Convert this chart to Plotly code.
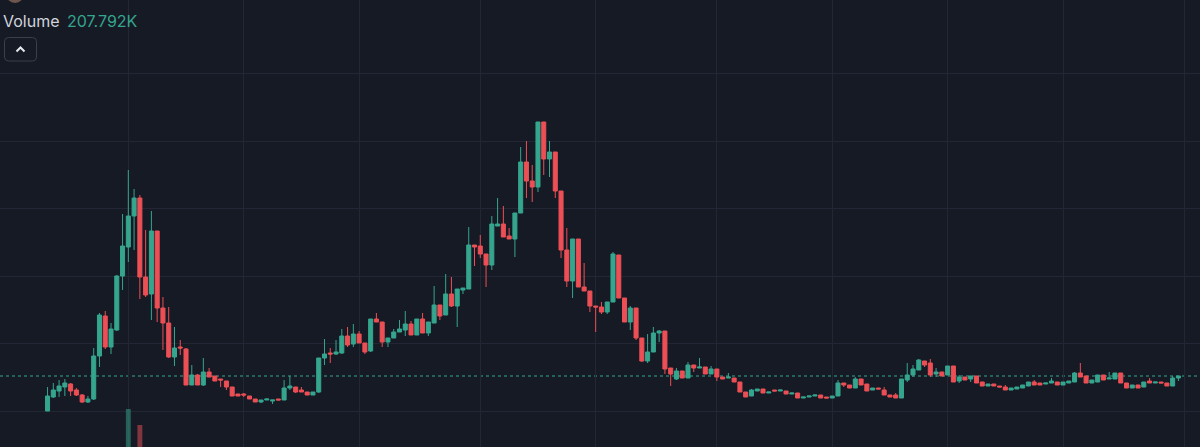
import plotly.graph_objects as go

# ---- data (price in chart units) ----
open_ = [68, 82, 88, 92, 95, 89, 84, 77, 80, 123, 163, 132, 149, 203, 232, 263, 281, 202, 185, 248,
         171, 156, 122, 132, 130, 94, 104, 94, 107, 103, 100, 98, 92, 85, 85, 83, 80, 77, 79, 78,
         80, 79, 91, 92, 89, 87, 84, 87, 121, 126, 125, 126, 143, 135, 145, 136, 128, 160, 157, 137,
         141, 147, 149, 155, 144, 160, 146, 156, 174, 164, 185, 173, 189, 190, 234, 233, 225, 214, 253, 255,
         243, 240, 266, 317, 298, 292, 357, 320, 327, 288, 229, 198, 240, 192, 188, 173, 172, 167, 177, 224,
         181, 157, 171, 141, 118, 127, 146, 148, 111, 100, 108, 101, 114, 111, 112, 105, 110, 102, 101, 101,
         97, 87, 83, 88, 90, 86, 89, 88, 88, 85, 86, 81, 82, 83, 84, 82, 81, 83, 96, 94,
         91, 100, 95, 89, 91, 89, 84, 84, 81, 99, 104, 109, 118, 116, 105, 107, 104, 113, 98, 102,
         100, 103, 97, 93, 95, 93, 92, 89, 90, 91, 93, 97, 96, 95, 96, 97, 94, 96, 97, 106,
         103, 96, 97, 104, 100, 100, 106, 96, 91, 94, 92, 98, 96, 97, 96, 93, 101]
high = [92, 96, 99, 100, 96, 91, 85, 83, 131, 166, 168, 156, 204, 265, 309, 290, 284, 249, 268, 248,
        182, 172, 152, 139, 131, 114, 105, 121, 111, 103, 100, 98, 92, 85, 86, 83, 80, 79, 80, 79,
        80, 99, 103, 92, 92, 87, 87, 121, 140, 131, 139, 150, 152, 155, 148, 136, 160, 166, 157, 141,
        150, 159, 168, 158, 160, 166, 157, 193, 174, 205, 202, 190, 191, 252, 234, 244, 225, 263, 281, 273,
        251, 266, 332, 338, 314, 357, 357, 338, 327, 288, 251, 240, 240, 216, 188, 173, 177, 177, 227, 224,
        181, 173, 171, 141, 145, 152, 149, 148, 111, 111, 108, 117, 114, 121, 112, 113, 110, 102, 106, 101,
        97, 87, 90, 90, 90, 87, 89, 89, 88, 86, 86, 82, 83, 84, 84, 82, 83, 99, 96, 94,
        102, 100, 95, 91, 91, 92, 84, 86, 100, 116, 114, 120, 118, 120, 111, 107, 113, 113, 104, 102,
        103, 103, 97, 95, 95, 93, 94, 91, 92, 94, 97, 99, 96, 96, 101, 97, 97, 98, 107, 116,
        103, 99, 104, 104, 107, 106, 106, 96, 94, 94, 97, 101, 97, 97, 96, 103, 103]
low = [68, 81, 82, 83, 83, 83, 76, 76, 79, 112, 130, 125, 148, 189, 217, 229, 180, 182, 159, 157,
       129, 121, 113, 124, 94, 94, 94, 93, 102, 98, 92, 89, 83, 83, 82, 80, 77, 76, 79, 75,
       79, 79, 89, 86, 87, 84, 84, 86, 114, 116, 124, 125, 132, 132, 136, 125, 127, 157, 132, 132,
       141, 147, 143, 144, 144, 146, 143, 156, 159, 164, 172, 152, 185, 190, 213, 221, 192, 209, 253, 242,
       240, 222, 266, 281, 277, 287, 304, 302, 281, 221, 192, 181, 192, 188, 167, 147, 165, 165, 177, 181,
       157, 149, 139, 117, 116, 127, 137, 105, 93, 99, 101, 101, 107, 111, 105, 105, 98, 100, 101, 97,
       87, 82, 83, 88, 86, 86, 88, 88, 85, 85, 81, 81, 82, 83, 81, 81, 81, 83, 92, 91,
       91, 94, 88, 89, 90, 84, 82, 81, 81, 97, 102, 109, 112, 102, 102, 103, 104, 97, 96, 99,
       97, 96, 93, 93, 93, 92, 89, 89, 90, 91, 93, 94, 94, 95, 96, 94, 94, 96, 97, 102,
       96, 96, 97, 99, 100, 100, 96, 91, 91, 91, 92, 96, 96, 96, 93, 93, 98]
close = [83, 89, 93, 96, 88, 84, 77, 80, 123, 164, 132, 150, 203, 233, 263, 281, 202, 184, 248, 171,
         156, 122, 131, 131, 94, 104, 94, 107, 102, 98, 99, 92, 83, 83, 84, 80, 77, 79, 80, 79,
         79, 91, 93, 87, 87, 84, 87, 121, 125, 125, 127, 143, 134, 145, 136, 127, 160, 157, 137, 141,
         147, 150, 155, 144, 160, 146, 157, 174, 163, 185, 173, 190, 191, 234, 232, 225, 214, 255, 255, 242,
         240, 266, 317, 298, 292, 357, 320, 327, 288, 229, 198, 240, 192, 188, 173, 172, 167, 177, 225, 181,
         157, 171, 141, 118, 127, 146, 148, 110, 105, 108, 101, 114, 111, 112, 105, 110, 102, 100, 102, 97,
         87, 82, 89, 90, 86, 87, 88, 89, 85, 86, 81, 82, 83, 84, 81, 81, 83, 96, 94, 91,
         100, 94, 88, 91, 90, 84, 82, 81, 100, 104, 110, 119, 114, 104, 107, 103, 113, 97, 102, 99,
         103, 96, 93, 95, 93, 92, 89, 91, 92, 94, 97, 94, 94, 96, 98, 94, 97, 98, 106, 102,
         96, 99, 104, 99, 101, 106, 96, 91, 94, 91, 97, 96, 97, 96, 93, 101, 103]
candle_idx = list(range(len(open_)))

# volume bars that rise into view (the rest of the volume pane is cropped away)
vol_idx = [14, 16]
vol_vals = [1451, 1345]          # thousands
vol_dir = ["up", "down"]
last_volume_label = "207.792K"

# time-grid positions (candle index)
grid_x = [14, 34, 54, 75, 95, 116, 136, 156, 176, 197]
grid_y = [67.6 * k for k in range(1, 7)]

UP = "#35a58e"
DOWN = "#ec4f55"
BG = "#161a25"
GRID = "#232735"

fig = go.Figure()

fig.add_trace(go.Bar(
    x=vol_idx, y=vol_vals, yaxis="y2", width=0.85,
    marker=dict(color=["rgba(53,165,142,0.5)" if d == "up" else "rgba(236,79,85,0.5)" for d in vol_dir],
                line=dict(width=0)),
    hoverinfo="skip"))

fig.add_trace(go.Candlestick(
    x=candle_idx, open=open_, high=high, low=low, close=close,
    increasing=dict(line=dict(color=UP, width=1), fillcolor=UP),
    decreasing=dict(line=dict(color=DOWN, width=1), fillcolor=DOWN),
    whiskerwidth=0))

# last price dotted line
fig.add_shape(type="line", xref="paper", x0=0, x1=1, yref="y", y0=close[-1], y1=close[-1],
              line=dict(color=UP, width=1, dash="dot"), layer="below")

# collapse button (rounded rect + chevron), pixel-sized from the top-left corner
def rr(x0, y0, x1, y1, r):
    return (f"M {x0+r},{y0} L {x1-r},{y0} Q {x1},{y0} {x1},{y0-r} L {x1},{y1+r} Q {x1},{y1} {x1-r},{y1} "
            f"L {x0+r},{y1} Q {x0},{y1} {x0},{y1+r} L {x0},{y0-r} Q {x0},{y0} {x0+r},{y0} Z")

common = dict(xref="paper", yref="paper", xsizemode="pixel", ysizemode="pixel", xanchor=0, yanchor=1)
fig.add_shape(type="path", path=rr(4.5, -37.5, 36.5, -61, 4),
              line=dict(color="#3b3f4b", width=1), fillcolor=BG, **common)
fig.add_shape(type="path", path="M 16.5,-51.5 L 20.5,-47.5 L 24.5,-51.5",
              line=dict(color="#e6e8ee", width=2), **common)
# cropped icon at the very top
fig.add_shape(type="circle", x0=6, x1=24, y0=-3, y1=15, fillcolor="#6e564c",
              line=dict(width=0), **common)

fig.add_annotation(text="Volume", xref="paper", yref="paper", x=1 / 1200, y=1 - 21 / 447,
                   xanchor="left", yanchor="middle", showarrow=False,
                   font=dict(family="Inter, Roboto, sans-serif", size=16, color="#d1d4dc"))
fig.add_annotation(text=last_volume_label, xref="paper", yref="paper", x=65 / 1200, y=1 - 21 / 447,
                   xanchor="left", yanchor="middle", showarrow=False,
                   font=dict(family="Inter, Roboto, sans-serif", size=16, color=UP))

fig.update_layout(
    width=1200, height=447, margin=dict(l=0, r=0, t=0, b=0),
    paper_bgcolor=BG, plot_bgcolor=BG, showlegend=False,
    boxgap=0.3, boxgroupgap=0,
    xaxis=dict(range=[-8.24, 199.74], tickvals=grid_x, showticklabels=False, ticks="",
               showgrid=True, gridcolor=GRID, gridwidth=1, zeroline=False, showline=False,
               rangeslider=dict(visible=False), fixedrange=True),
    yaxis=dict(range=[32, 479], tickvals=grid_y, showticklabels=False, ticks="",
               showgrid=True, gridcolor=GRID, gridwidth=1, zeroline=False, showline=False, fixedrange=True),
    yaxis2=dict(overlaying="y", range=[1200, 1200 + 447 * 6.6], visible=False, fixedrange=True),
)

fig.write_html("out.html")
